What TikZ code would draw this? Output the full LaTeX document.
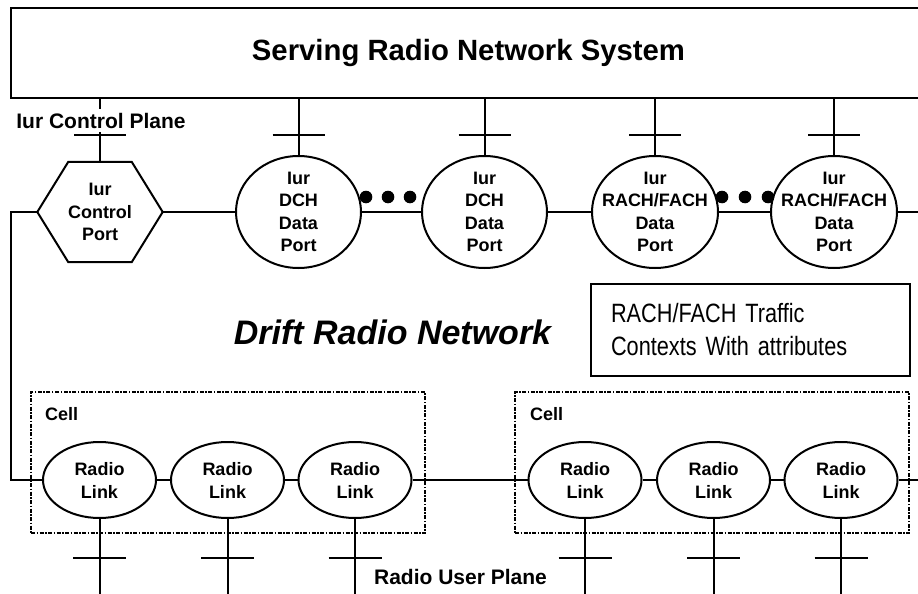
\documentclass[tikz,border=0pt]{standalone}
\usepackage{fontspec}
\setmainfont{Liberation Sans}
\newfontfamily\narrowfont[FakeStretch=0.82]{Liberation Sans}
\usetikzlibrary{shapes.geometric}

\newcommand\portfont{\bfseries\fontsize{18}{22.5}\selectfont}
\newcommand\planefont{\bfseries\fontsize{21}{25}\selectfont}

\tikzset{
  wire/.style={line width=2pt},
  port/.style={ellipse, draw, line width=2pt, minimum width=125pt, minimum height=112pt, inner sep=0pt},
  porttext/.style={align=center, font=\portfont},
  radiolink/.style={ellipse, draw, line width=2pt, minimum width=113pt, minimum height=76pt, inner sep=0pt, align=center, font={\bfseries\fontsize{18}{23}\selectfont}},
  cellbox/.style={draw, line width=1.5pt, dash pattern=on 4pt off 1.5pt on 1.5pt off 1.5pt, minimum width=394pt, minimum height=141pt},
  celltext/.style={anchor=west, inner sep=0pt, font=\portfont},
}

\begin{document}
\begin{tikzpicture}[x=1pt,y=-1pt]
  \useasboundingbox (0,0) rectangle (918,594);

  % serving system, its right side runs off the page
  \node[draw, line width=2.5pt, minimum width=920pt, minimum height=90pt] (srns) at (471,53) {};
  \node[font={\bfseries\fontsize{29.3}{34}\selectfont}] (srnstitle) at (468.5,53) {Serving Radio Network System};

  % Iur ports
  \node[minimum width=125pt, minimum height=100pt, align=center, font=\portfont] (cport) at (100,212) {Iur\\Control\\Port};
  \draw[wire] (cport.west) -- ([xshift=31pt]cport.north west) -- ([xshift=-31pt]cport.north east)
    -- (cport.east) -- ([xshift=-31pt]cport.south east) -- ([xshift=31pt]cport.south west) -- cycle;

  \node[port] (dch1) at (298.5,212) {};
  \node[port] (dch2) at (484.5,212) {};
  \node[port, minimum width=126pt] (rach1) at (655,212) {};
  \node[port, minimum width=126pt] (rach2) at (834,212) {};
  \node[porttext] (dch1txt) at (dch1) {Iur\\DCH\\Data\\Port};
  \node[porttext] (dch2txt) at (dch2) {Iur\\DCH\\Data\\Port};
  \node[porttext] (rach1txt) at (rach1) {Iur\\RACH/FACH\\Data\\Port};
  \node[porttext] (rach2txt) at (rach2) {Iur\\RACH/FACH\\Data\\Port};

  % stubs up to the serving system
  \coordinate (toptick) at (0,135);
  \foreach \p in {cport,dch1,dch2,rach1,rach2}{
    \draw[wire] (\p.north) -- (\p.north |- srns.south);
    \draw[wire] (\p.north |- toptick) ++(-26,0) -- ++(52,0);
  }
  \node[fill=white, inner xsep=2pt, inner ysep=4pt, font=\planefont] (ctrlplane) at (101,120.5) {Iur Control Plane};

  % port wire
  \coordinate (portend) at (918,212);
  \draw[wire] (cport) -- (dch1);
  \draw[wire] (dch1) -- (dch2);
  \draw[wire] (dch2) -- (rach1);
  \draw[wire] (rach1) -- (rach2);
  \draw[wire] (rach2) -- (portend);
  \foreach \x in {366,388,410,722,745,768} \fill (\x,197) circle (6.3);

  % traffic contexts
  \node[draw, line width=2pt, minimum width=319pt, minimum height=92pt, text width=279pt, inner xsep=20pt,
    align=left, font={\narrowfont\fontsize{26.5}{33}\selectfont}] (traffic) at (750.5,330) {RACH/FACH Traffic\\Contexts With attributes};

  \node[font={\bfseries\itshape\fontsize{34}{40}\selectfont}] (drift) at (392.5,332) {Drift Radio Network};

  % cells
  \node[cellbox] (cellA) at (228,462.5) {};
  \node[cellbox] (cellB) at (712,462.5) {};
  \node[celltext] (cellAtxt) at (45,414) {Cell};
  \node[celltext] (cellBtxt) at (530,414) {Cell};

  % radio links
  \node[radiolink] (rl1) at (99.5,480) {Radio\\Link};
  \node[radiolink] (rl2) at (227.5,480) {Radio\\Link};
  \node[radiolink] (rl3) at (355,480) {Radio\\Link};
  \node[radiolink] (rl4) at (585,480) {Radio\\Link};
  \node[radiolink] (rl5) at (713.5,480) {Radio\\Link};
  \node[radiolink] (rl6) at (841,480) {Radio\\Link};

  \coordinate (linkstart) at (11,480);
  \coordinate (linkend) at (918,480);
  \draw[wire] (cport.west) -| (linkstart) -- (rl1);
  \draw[wire] (rl1) -- (rl2);
  \draw[wire] (rl2) -- (rl3);
  \draw[wire] (rl3) -- (rl4);
  \draw[wire] (rl4) -- (rl5);
  \draw[wire] (rl5) -- (rl6);
  \draw[wire] (rl6) -- (linkend);

  % user plane stubs
  \foreach \p in {rl1,rl2,rl3,rl4,rl5,rl6}{
    \draw[wire] (\p.south) -- ++(0,80);
    \draw[wire] (\p.south) ++(-26.5,39) -- ++(53,0);
  }
  \node[font=\planefont] (userplane) at (460.5,577) {Radio User Plane};
\end{tikzpicture}
\end{document}
